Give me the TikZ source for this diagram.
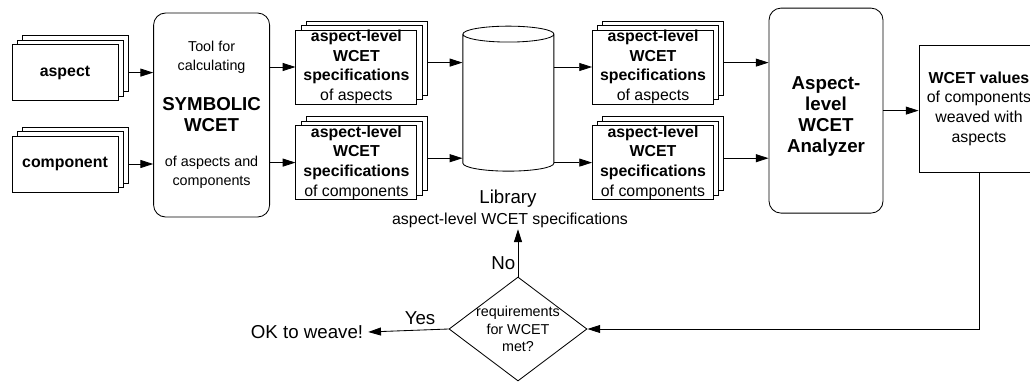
\documentclass[tikz,border=0pt]{standalone}
\usepackage{fontspec}
\setmainfont{Liberation Sans}
\usetikzlibrary{shapes.geometric,shadows,arrows.meta}
\newcommand{\txtmain}{\fontsize{11.3}{14}\selectfont}
\newcommand{\txtsmall}{\fontsize{10.2}{13.4}\selectfont}
\newcommand{\txtdia}{\fontsize{10.2}{12.4}\selectfont}
\newcommand{\txtbig}{\fontsize{13.3}{16}\selectfont}
\newcommand{\txthead}{\fontsize{13.3}{14.8}\selectfont\bfseries}
\begin{document}
\begin{tikzpicture}[line width=0.6pt,font=\txtmain,
  arr/.style={-{Triangle[length=0.32cm,width=0.2cm]}},
  sheet/.style={draw,fill=white,copy shadow={shadow xshift=0.26cm,shadow yshift=0.22cm,draw,fill=white},copy shadow={shadow xshift=0.13cm,shadow yshift=0.11cm,draw,fill=white}},
  input/.style={sheet,minimum width=2.65cm,minimum height=1.4cm,font=\txtmain\bfseries},
  spec/.style={sheet,minimum width=3.025cm,minimum height=1.8cm,inner sep=0pt,align=center},
  tool/.style={draw,rounded corners=0.3cm,minimum width=2.9cm,minimum height=5.1cm}]
\useasboundingbox (0,0) rectangle (25.75,9.575);
\node[input] (aspect) at (1.625,7.76) {aspect};
\node[input] (component) at (1.625,5.475) {component};
\node[tool] (symbolic) at (5.29,6.7) {};
\node[font=\txtsmall,align=center] (tooltop) at (5.29,8.14) {Tool for\\calculating};
\node[font=\txthead,align=center] (toolname) at (5.29,6.71) {SYMBOLIC\\WCET};
\node[font=\txtsmall,align=center] (toolbottom) at (5.29,5.26) {of aspects and\\components};
\node[spec] (specal) at (8.91,7.9) {\textbf{aspect-level}\\\textbf{WCET}\\\textbf{specifications}\\of aspects};
\node[spec] (speccl) at (8.91,5.51) {\textbf{aspect-level}\\\textbf{WCET}\\\textbf{specifications}\\of components};
\node[cylinder,shape border rotate=90,draw,aspect=1.7,minimum width=2.275cm,minimum height=3.625cm] (library) at (12.71,6.96) {};
\node[font=\txtbig] (libtitle) at (12.7,4.6) {Library};
\node[inner sep=1pt] (libtext) at (12.75,4.075) {aspect-level WCET specifications};
\node[spec] (specar) at (16.325,7.9) {\textbf{aspect-level}\\\textbf{WCET}\\\textbf{specifications}\\of aspects};
\node[spec] (speccr) at (16.325,5.51) {\textbf{aspect-level}\\\textbf{WCET}\\\textbf{specifications}\\of components};
\node[tool,minimum width=2.85cm,minimum height=5.125cm] (analyzer) at (20.65,6.81) {};
\node[font=\txthead,align=center] (analyzername) at (20.65,6.66) {Aspect-\\level\\WCET\\Analyzer};
\node[draw,minimum width=3cm,minimum height=3.175cm,align=center] (wcet) at (24.475,6.86) {\textbf{WCET values}\\of components\\weaved with\\aspects};
\node[diamond,draw,minimum width=3.45cm,minimum height=2.6cm,inner sep=0pt] (decision) at (12.95,1.35) {};
\node[font=\txtdia,align=center] (question) at (decision) {requirements\\for WCET\\met?};
\node[font=\txtbig] (okweave) at (7.675,1.275) {OK to weave!};
\node[font=\txtbig] (yes) at (10.5,1.625) {Yes};
\node[font=\txtbig] (no) at (12.58,3.0) {No};
\coordinate (specalout) at ([xshift=0.26cm,yshift=0.11cm]specal.east);
\coordinate (specclout) at ([xshift=0.26cm,yshift=0.11cm]speccl.east);
\coordinate (specarout) at ([xshift=0.26cm,yshift=0.11cm]specar.east);
\coordinate (speccrout) at ([xshift=0.26cm,yshift=0.11cm]speccr.east);
\draw[arr] ([xshift=0.26cm]aspect.east) -- (aspect.east -| symbolic.west);
\draw[arr] ([xshift=0.26cm]component.east) -- (component.east -| symbolic.west);
\draw[arr] (symbolic.east |- specal.west) -- (specal.west);
\draw[arr] (symbolic.east |- speccl.west) -- (speccl.west);
\draw[arr] (specalout) -- (specalout -| library.west);
\draw[arr] (specclout) -- (specclout -| library.west);
\draw[arr] (library.east |- specar.west) -- (specar.west);
\draw[arr] (library.east |- speccr.west) -- (speccr.west);
\draw[arr] (specarout) -- (specarout -| analyzer.west);
\draw[arr] (speccrout) -- (speccrout -| analyzer.west);
\draw[arr] (analyzer.east) -- (analyzer.east -| wcet.west);
\draw[arr] (wcet.south) |- (decision.east);
\draw[arr] (decision.west) -- (okweave.east);
\draw[arr] (decision.north) -- (decision.north |- libtext.south);
\end{tikzpicture}
\end{document}
